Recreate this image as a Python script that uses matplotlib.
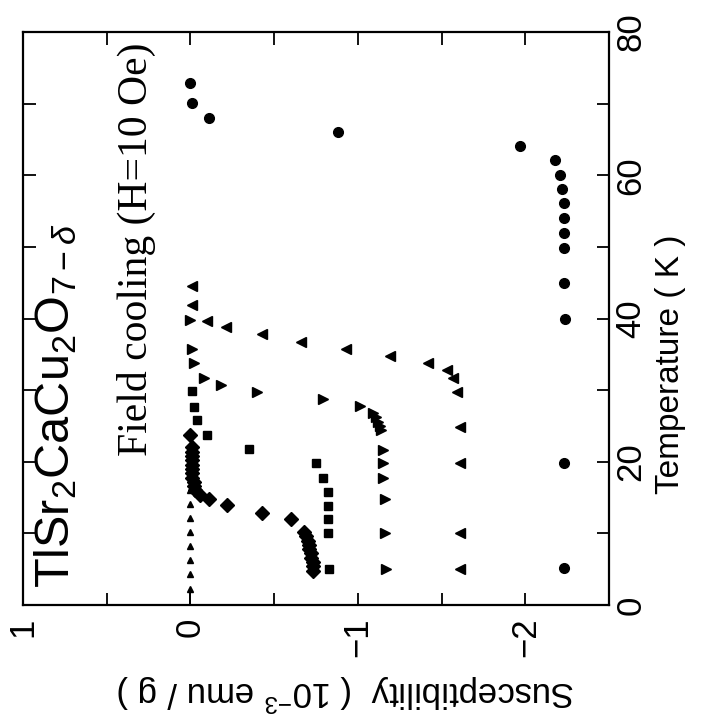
import numpy as np
import matplotlib
matplotlib.use('Agg')
import matplotlib.pyplot as plt

plt.rcParams['font.family'] = ['Liberation Sans', 'DejaVu Sans']
plt.rcParams['mathtext.fontset'] = 'custom'
plt.rcParams['mathtext.rm'] = 'Liberation Sans'
plt.rcParams['mathtext.it'] = 'Liberation Sans:italic'
plt.rcParams['mathtext.sf'] = 'Liberation Sans'

# ---- data (Temperature in K, susceptibility in 1e-3 emu/g) ----
circ_T = [72.9, 70.1, 68.0, 66.0, 64.1, 62.1, 60.1, 58.1, 56.1, 54.0, 52.0, 49.9, 44.9, 39.9, 19.8, 5.1]
circ_chi = [0.0, -0.01, -0.11, -0.88, -1.97, -2.18, -2.21, -2.22, -2.23, -2.23, -2.23, -2.23, -2.23, -2.24, -2.23, -2.23]

left_T = [44.5, 41.9, 39.7, 38.8, 37.8, 36.7, 35.7, 34.7, 33.8, 32.8, 31.7, 29.8, 24.8, 19.8, 10.0, 5.0]
left_chi = [-0.01, -0.01, -0.10, -0.21, -0.43, -0.66, -0.93, -1.19, -1.42, -1.53, -1.57, -1.59, -1.61, -1.61, -1.61, -1.61]

right_T = [39.8, 35.7, 33.8, 31.7, 30.7, 29.7, 28.8, 27.8, 26.8, 26.2, 25.6, 25.0, 24.4, 21.7, 19.8, 17.7, 14.8, 10.0, 5.0]
right_chi = [0.0, -0.01, -0.02, -0.08, -0.18, -0.40, -0.79, -1.01, -1.09, -1.11, -1.12, -1.13, -1.14, -1.15, -1.15, -1.15, -1.16, -1.16, -1.17]

sq_T = [29.9, 27.7, 25.8, 23.8, 21.8, 19.8, 17.8, 15.8, 13.8, 12.0, 10.0, 5.0]
sq_chi = [-0.01, -0.02, -0.04, -0.10, -0.35, -0.75, -0.79, -0.82, -0.82, -0.82, -0.82, -0.83]

dia_T = [23.8, 22.0, 21.4, 20.8, 20.2, 19.6, 19.0, 18.4, 17.8, 17.2, 16.6, 16.0, 15.4, 14.8, 13.9, 12.9,
         12.0, 10.2, 9.6, 9.0, 8.4, 7.8, 7.2, 6.6, 6.0, 5.4, 4.8]
dia_chi = [0.0, -0.01, -0.01, -0.01, -0.01, -0.01, -0.01, -0.01, -0.01, -0.02, -0.02, -0.03, -0.06, -0.11, -0.22, -0.43,
           -0.60, -0.68, -0.69, -0.70, -0.71, -0.71, -0.72, -0.72, -0.73, -0.73, -0.73]

up_T = [2.3, 4.3, 6.3, 8.2, 10.2, 12.1, 14.1, 16.1, 18.1, 20.1]
up_chi = [0.0] * len(up_T)

temp_ticks = [0, 20, 40, 60, 80]
chi_ticks = [1, 0, -1, -2]
chi_labels = ['1', '0', '\u22121', '\u22122']

fig = plt.figure(figsize=(7.18, 7.27), dpi=100)
ax = fig.add_axes([23/718, 1-605/727, 586/718, 573/727])
ax.set_xlim(1, -2.5)
ax.set_ylim(0, 80)

k = 'black'
ax.plot([up_chi[0], up_chi[0]], [0, up_T[0]], color=k, lw=1.3)
ax.plot(up_chi, up_T, ls='none', marker='^', ms=5, color=k)
ax.plot(dia_chi, dia_T, ls='none', marker='D', ms=7, color=k)
ax.plot(sq_chi, sq_T, ls='none', marker='s', ms=6, color=k)
ax.plot(right_chi, right_T, ls='none', marker='>', ms=6.5, color=k)
ax.plot(left_chi, left_T, ls='none', marker='<', ms=6.5, color=k)
ax.plot(circ_chi, circ_T, ls='none', marker='o', ms=7, color=k)

for s in ax.spines.values():
    s.set_linewidth(1.6)

ax.set_xticks(chi_ticks)
ax.set_xticks([0.5, -0.5, -1.5], minor=True)
ax.set_xticklabels(chi_labels, rotation=90, va='top', ha='center', fontsize=25)
ax.set_yticks(temp_ticks)
ax.set_yticks([10, 30, 50, 70], minor=True)
ax.yaxis.tick_right()
ax.set_yticklabels([str(t) for t in temp_ticks], rotation=90, va='center', ha='left', fontsize=25)
ax.tick_params(which='both', direction='in', length=9, width=1.3,
               top=True, bottom=True, left=True, right=True,
               labelleft=False, labelright=True, labeltop=False, labelbottom=True)
ax.tick_params(axis='x', which='major', pad=9)
ax.tick_params(axis='y', which='major', pad=4)

fig.text(671/718, 1-364/727, 'Temperature ( K )', rotation=90, ha='center', va='center', fontsize=24)
fig.text(346/718, 1-693/727, r'Susceptibility  ( 10$^{-3}$ emu / g )', rotation=180,
         ha='center', va='center', fontsize=25)

ax.text(0.056, 0.347, r'TlSr$_2$CaCu$_2$O$_{7-\delta}$', transform=ax.transAxes, rotation=90,
        ha='center', va='center', fontsize=35)
ax.text(0.193, 0.62, 'Field cooling (H=10 Oe)', transform=ax.transAxes, rotation=90,
        ha='center', va='center', fontsize=30, family='Liberation Serif')

fig.savefig('out.png', dpi=100)
